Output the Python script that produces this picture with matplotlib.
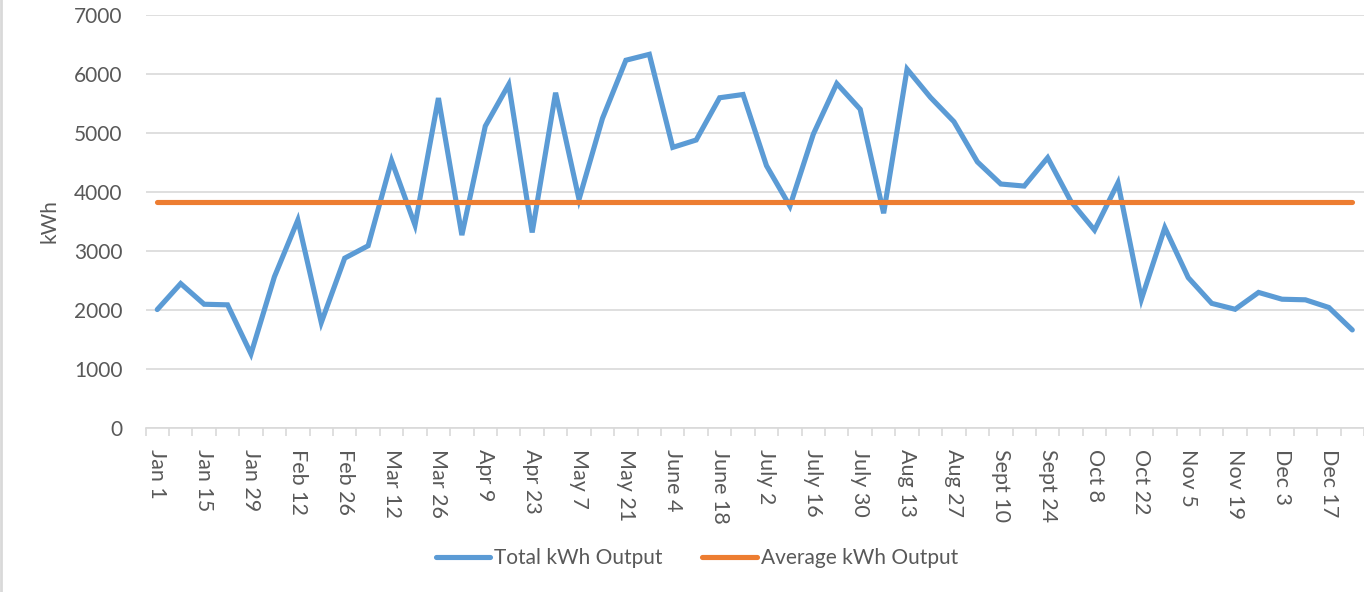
import numpy as np
import matplotlib
matplotlib.use("Agg")
import matplotlib.pyplot as plt
from matplotlib.lines import Line2D
from matplotlib.ticker import FixedLocator

plt.rcParams['font.family'] = ['Lato', 'DejaVu Sans']

# Weekly output, Jan 1 to Dec 24 (52 weeks)
total_kwh = [2010, 2450, 2100, 2090, 1260, 2565, 3525, 1790, 2880, 3090,
             4530, 3440, 5590, 3270, 5115, 5820, 3315, 5680, 3875, 5245,
             6230, 6330, 4755, 4880, 5595, 5650, 4445, 3760, 4980, 5835,
             5400, 3640, 6080, 5600, 5190, 4510, 4135, 4100, 4580, 3835,
             3355, 4155, 2185, 3395, 2550, 2115, 2015, 2300, 2185, 2175,
             2045, 1665]
avg_kwh = [3830] * 52

# only every second week gets a label
week_labels = ['Jan 1', 'Jan 15', 'Jan 29', 'Feb 12', 'Feb 26', 'Mar 12', 'Mar 26',
               'Apr 9', 'Apr 23', 'May 7', 'May 21', 'June 4', 'June 18', 'July 2',
               'July 16', 'July 30', 'Aug 13', 'Aug 27', 'Sept 10', 'Sept 24',
               'Oct 8', 'Oct 22', 'Nov 5', 'Nov 19', 'Dec 3', 'Dec 17']

blue = '#5B9BD5'
orange = '#ED7D31'
grid_col = '#D9D9D9'
text_col = '#595959'
fs = 15

fig = plt.figure(figsize=(13.64, 5.92), dpi=100)
ax = fig.add_axes([0.1067, 0.2765, 0.8933, 0.6986])

x = np.arange(len(total_kwh))
ax.plot(x, total_kwh, color=blue, lw=3.7, solid_joinstyle='miter', solid_capstyle='round',
        label='Total kWh Output', zorder=3)
ax.plot(x, avg_kwh, color=orange, lw=3.7, solid_capstyle='round',
        label='Average kWh Output', zorder=3)

# axes limits, Excel-like category axis (ticks between categories)
ax.set_xlim(-0.5, len(total_kwh) - 0.5)
ax.set_ylim(0, 7000)
ax.set_yticks(np.arange(0, 7001, 1000))
ax.yaxis.grid(True, color=grid_col, lw=1.2)
ax.set_axisbelow(True)

ax.set_xticks(x[::2])
ax.set_xticklabels(week_labels, rotation=-90, fontsize=fs + 0.5, color=text_col)
ax.xaxis.set_minor_locator(FixedLocator(np.arange(-0.5, len(total_kwh), 1.0)))
ax.tick_params(axis='x', which='major', length=0, pad=15)
ax.tick_params(axis='x', which='minor', length=6, color=grid_col, width=1.2)
ax.tick_params(axis='y', length=0, pad=16.5, labelsize=fs, labelcolor=text_col)

for s in ['top', 'right', 'left']:
    ax.spines[s].set_visible(False)
ax.spines['bottom'].set_color(grid_col)
ax.spines['bottom'].set_linewidth(1.2)

ax.set_ylabel('kWh', fontsize=fs, color=text_col)
ax.yaxis.set_label_coords(-0.0703, 0.5)

fig.legend(loc='center', bbox_to_anchor=(0.511, 0.057), ncol=2, frameon=False,
           fontsize=fs, handlelength=2.6, handletextpad=0.2, columnspacing=1.9,
           labelcolor=text_col)

# thin grey border on the left edge
fig.add_artist(Line2D([0.001, 0.001], [0, 1], transform=fig.transFigure, color=grid_col, lw=2))

fig.savefig('out.png', dpi=100)
